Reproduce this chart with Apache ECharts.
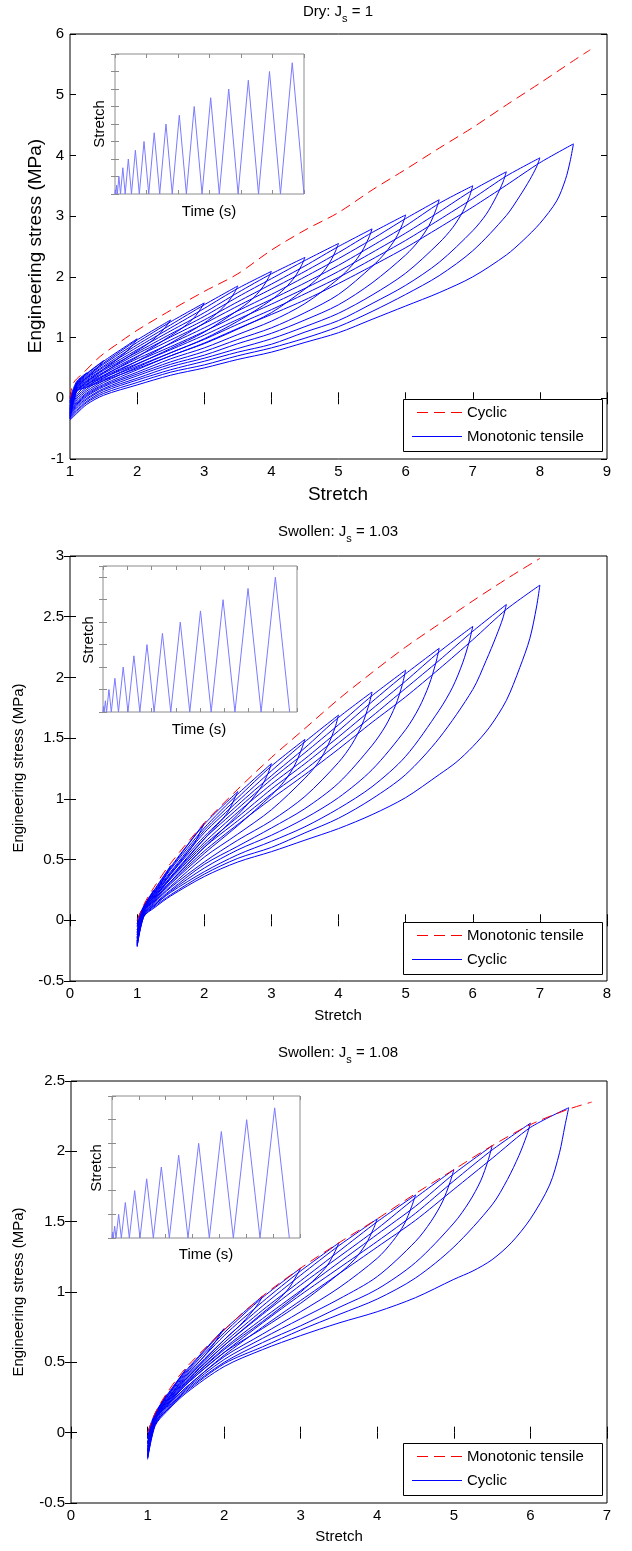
<!DOCTYPE html>
<html>
<head>
<meta charset="utf-8">
<script src="https://cdn.jsdelivr.net/npm/echarts@6/dist/echarts.min.js"></script>
<style>html,body{margin:0;padding:0;background:#fff}#c{width:632px;height:1551px}</style>
</head>
<body>
<div id="c"></div>
<script>
const FONT = '"Liberation Sans", Arial, Helvetica, sans-serif';

// ================= Panel 1: Dry, J_s = 1 =================
const dryMonoX = [1, 1.05, 1.2, 1.45, 1.75, 2, 2.5, 3, 3.5, 4, 4.5, 5, 5.5, 6, 6.5, 7, 7.5, 8, 8.5, 8.75];
const dryMonoY = [0, 0.25, 0.42, 0.69, 0.93, 1.12, 1.45, 1.76, 2.05, 2.44, 2.77, 3.06, 3.43, 3.77, 4.12, 4.46, 4.83, 5.19, 5.56, 5.74];
// loading branches, [stretch, stress]
const dryLoad = [
  [[1,0],[1.1,0.28],[1.25,0.42]],
  [[1,-0.05],[1.1,0.26],[1.25,0.41],[1.5,0.62]],
  [[1,-0.08],[1.1,0.25],[1.25,0.40],[1.5,0.61],[2,0.98]],
  [[1,-0.12],[1.1,0.24],[1.25,0.38],[1.5,0.58],[2,0.96],[2.5,1.29]],
  [[1,-0.15],[1.1,0.23],[1.25,0.36],[1.5,0.56],[2,0.92],[2.5,1.26],[3,1.57]],
  [[1,-0.17],[1.1,0.22],[1.25,0.34],[1.5,0.53],[2,0.88],[2.5,1.21],[3,1.54],[3.5,1.85]],
  [[1,-0.19],[1.1,0.21],[1.25,0.33],[1.5,0.51],[2,0.84],[2.5,1.16],[3,1.48],[3.5,1.81],[4,2.09]],
  [[1,-0.21],[1.1,0.20],[1.25,0.31],[1.5,0.48],[2,0.80],[2.5,1.11],[3,1.41],[3.5,1.74],[4,2.05],[4.5,2.32]],
  [[1,-0.23],[1.1,0.19],[1.25,0.29],[1.5,0.46],[2,0.76],[2.5,1.06],[3,1.35],[3.5,1.67],[4,1.97],[4.5,2.27],[5,2.55]],
  [[1,-0.24],[1.1,0.17],[1.25,0.28],[1.5,0.43],[2,0.73],[2.5,1.01],[3,1.29],[3.5,1.59],[4,1.88],[4.5,2.18],[5,2.50],[5.5,2.79]],
  [[1,-0.26],[1.1,0.16],[1.25,0.26],[1.5,0.41],[2,0.69],[2.5,0.96],[3,1.23],[3.5,1.52],[4,1.80],[4.5,2.09],[5,2.40],[5.5,2.73],[6,3.02]],
  [[1,-0.27],[1.1,0.15],[1.25,0.24],[1.5,0.38],[2,0.65],[2.5,0.90],[3,1.16],[3.5,1.44],[4,1.71],[4.5,2.00],[5,2.30],[5.5,2.62],[6,2.96],[6.5,3.27]],
  [[1,-0.29],[1.1,0.14],[1.25,0.23],[1.5,0.36],[2,0.61],[2.5,0.85],[3,1.10],[3.5,1.37],[4,1.63],[4.5,1.90],[5,2.19],[5.5,2.51],[6,2.84],[6.5,3.21],[7,3.50]],
  [[1,-0.31],[1.1,0.13],[1.25,0.21],[1.5,0.34],[2,0.57],[2.5,0.80],[3,1.04],[3.5,1.30],[4,1.55],[4.5,1.81],[5,2.09],[5.5,2.40],[6,2.72],[6.5,3.07],[7,3.43],[7.5,3.73]],
  [[1,-0.32],[1.1,0.12],[1.25,0.19],[1.5,0.31],[2,0.53],[2.5,0.75],[3,0.97],[3.5,1.22],[4,1.46],[4.5,1.72],[5,1.99],[5.5,2.29],[6,2.60],[6.5,2.94],[7,3.29],[7.5,3.66],[8,3.96]],
  [[1,-0.34],[1.1,0.11],[1.25,0.18],[1.5,0.29],[2,0.49],[2.5,0.70],[3,0.91],[3.5,1.15],[4,1.38],[4.5,1.62],[5,1.89],[5.5,2.18],[6,2.48],[6.5,2.81],[7,3.15],[7.5,3.51],[8,3.88],[8.5,4.19]]
];
// unloading branches
const dryUnload = [
  [[1.25,0.42],[1.2,0.35],[1.1,0.23],[1,-0.05]],
  [[1.5,0.62],[1.45,0.55],[1.35,0.44],[1.25,0.34],[1.1,0.17],[1,-0.08]],
  [[2,0.98],[1.95,0.90],[1.85,0.78],[1.7,0.64],[1.5,0.48],[1.25,0.27],[1.1,0.11],[1,-0.12]],
  [[2.5,1.29],[2.45,1.21],[2.35,1.08],[2.2,0.93],[2,0.78],[1.5,0.42],[1.25,0.22],[1.1,0.06],[1,-0.15]],
  [[3,1.57],[2.95,1.48],[2.85,1.33],[2.7,1.18],[2.5,1.03],[2,0.68],[1.5,0.37],[1.25,0.18],[1.1,0.03],[1,-0.17]],
  [[3.5,1.85],[3.45,1.74],[3.35,1.58],[3.2,1.41],[3,1.24],[2.5,0.91],[2,0.61],[1.5,0.33],[1.25,0.15],[1.1,0.00],[1,-0.19]],
  [[4,2.09],[3.95,1.97],[3.85,1.80],[3.7,1.62],[3.5,1.45],[3,1.09],[2.5,0.82],[2,0.56],[1.5,0.29],[1.25,0.12],[1.1,-0.03],[1,-0.21]],
  [[4.5,2.32],[4.45,2.19],[4.35,2.00],[4.2,1.81],[4,1.62],[3.5,1.27],[3,0.98],[2.5,0.75],[2,0.51],[1.5,0.26],[1.25,0.09],[1.1,-0.06],[1,-0.23]],
  [[5,2.55],[4.95,2.41],[4.85,2.20],[4.7,1.99],[4.5,1.80],[4,1.41],[3.5,1.14],[3,0.90],[2.5,0.70],[2,0.47],[1.5,0.23],[1.25,0.07],[1.1,-0.08],[1,-0.24]],
  [[5.5,2.79],[5.45,2.64],[5.35,2.42],[5.2,2.19],[5,1.97],[4.5,1.56],[4,1.27],[3.5,1.05],[3,0.83],[2.5,0.65],[2,0.43],[1.5,0.21],[1.25,0.05],[1.1,-0.10],[1,-0.26]],
  [[6,3.02],[5.95,2.86],[5.85,2.63],[5.7,2.40],[5.5,2.17],[5,1.71],[4.5,1.41],[4,1.16],[3.5,0.97],[3,0.77],[2.5,0.60],[2,0.40],[1.5,0.19],[1.25,0.03],[1.1,-0.12],[1,-0.27]],
  [[6.5,3.27],[6.45,3.10],[6.35,2.85],[6.2,2.60],[6,2.36],[5.5,1.90],[5,1.54],[4.5,1.29],[4,1.07],[3.5,0.90],[3,0.71],[2.5,0.56],[2,0.37],[1.5,0.16],[1.25,0.00],[1.1,-0.14],[1,-0.29]],
  [[7,3.50],[6.95,3.32],[6.85,3.07],[6.7,2.81],[6.5,2.56],[6,2.06],[5.5,1.70],[5,1.40],[4.5,1.18],[4,0.98],[3.5,0.82],[3,0.66],[2.5,0.52],[2,0.33],[1.5,0.14],[1.25,-0.02],[1.1,-0.17],[1,-0.31]],
  [[7.5,3.73],[7.45,3.56],[7.35,3.32],[7.2,3.03],[7,2.76],[6.5,2.24],[6,1.86],[5.5,1.56],[5,1.28],[4.5,1.09],[4,0.89],[3.5,0.76],[3,0.61],[2.5,0.47],[2,0.30],[1.5,0.11],[1.25,-0.05],[1.1,-0.20],[1,-0.32]],
  [[8,3.96],[7.95,3.81],[7.85,3.60],[7.7,3.33],[7.5,3.01],[7,2.43],[6.5,2.02],[6,1.71],[5.5,1.43],[5,1.18],[4.5,0.99],[4,0.83],[3.5,0.70],[3,0.55],[2.5,0.43],[2,0.26],[1.5,0.08],[1.25,-0.07],[1.1,-0.22],[1,-0.34]],
  [[8.5,4.19],[8.45,3.90],[8.38,3.60],[8.25,3.25],[8,2.88],[7.75,2.60],[7.5,2.36],[7,2.00],[6.5,1.74],[6,1.52],[5.5,1.30],[5,1.08],[4.5,0.92],[4,0.76],[3.5,0.64],[3,0.50],[2.5,0.38],[2,0.22],[1.5,0.05],[1.25,-0.10],[1.1,-0.25],[1,-0.36]]
];
const dryInsetT = [0, 0.25, 0.5, 1.0, 1.5, 2.5, 3.5, 5.0, 6.5, 8.5, 10.5, 13, 15.5, 18.5, 21.5, 25, 28.5, 32.5, 36.5, 41, 45.5, 50.5, 55.5, 61, 66.5, 72.5, 78.5, 85, 91.5, 98.5, 105.5, 113, 120.5];
const dryInsetS = [1, 1.25, 1, 1.5, 1, 2, 1, 2.5, 1, 3, 1, 3.5, 1, 4, 1, 4.5, 1, 5, 1, 5.5, 1, 6, 1, 6.5, 1, 7, 1, 7.5, 1, 8, 1, 8.5, 1];

// ================= Panel 2: Swollen, J_s = 1.03 =================
const sw1MonoX = [1, 1.1, 1.25, 1.5, 2, 2.5, 3, 3.5, 4, 4.5, 5, 5.5, 6, 6.5, 7];
const sw1MonoY = [0, 0.13, 0.27, 0.47, 0.80, 1.08, 1.34, 1.58, 1.82, 2.04, 2.25, 2.44, 2.63, 2.81, 2.98];
const sw1Load = [
  [[1,0],[1.1,0.12],[1.25,0.25]],
  [[1,-0.03],[1.1,0.11],[1.25,0.245],[1.5,0.45]],
  [[1,-0.05],[1.1,0.11],[1.25,0.24],[1.5,0.44],[2,0.80]],
  [[1,-0.08],[1.1,0.11],[1.25,0.23],[1.5,0.43],[2,0.79],[2.5,1.06]],
  [[1,-0.10],[1.1,0.10],[1.25,0.22],[1.5,0.42],[2,0.76],[2.5,1.04],[3,1.29]],
  [[1,-0.12],[1.1,0.10],[1.25,0.22],[1.5,0.40],[2,0.74],[2.5,1.01],[3,1.27],[3.5,1.49]],
  [[1,-0.14],[1.1,0.10],[1.25,0.21],[1.5,0.39],[2,0.72],[2.5,0.98],[3,1.23],[3.5,1.47],[4,1.69]],
  [[1,-0.15],[1.1,0.09],[1.25,0.20],[1.5,0.38],[2,0.69],[2.5,0.95],[3,1.19],[3.5,1.42],[4,1.67],[4.5,1.88]],
  [[1,-0.17],[1.1,0.09],[1.25,0.19],[1.5,0.36],[2,0.67],[2.5,0.92],[3,1.16],[3.5,1.38],[4,1.61],[4.5,1.85],[5,2.06]],
  [[1,-0.18],[1.1,0.09],[1.25,0.19],[1.5,0.35],[2,0.64],[2.5,0.89],[3,1.12],[3.5,1.33],[4,1.56],[4.5,1.80],[5,2.03],[5.5,2.24]],
  [[1,-0.19],[1.1,0.08],[1.25,0.18],[1.5,0.34],[2,0.62],[2.5,0.85],[3,1.08],[3.5,1.29],[4,1.51],[4.5,1.74],[5,1.97],[5.5,2.21],[6,2.42]],
  [[1,-0.20],[1.1,0.08],[1.25,0.17],[1.5,0.32],[2,0.60],[2.5,0.82],[3,1.04],[3.5,1.24],[4,1.46],[4.5,1.68],[5,1.91],[5.5,2.14],[6,2.38],[6.5,2.60]],
  [[1,-0.21],[1.1,0.08],[1.25,0.16],[1.5,0.31],[2,0.57],[2.5,0.79],[3,1.00],[3.5,1.20],[4,1.41],[4.5,1.63],[5,1.84],[5.5,2.07],[6,2.31],[6.5,2.56],[7,2.76]]
];
const sw1Unload = [
  [[1.25,0.25],[1.2,0.20],[1.1,0.11],[1,-0.03]],
  [[1.5,0.45],[1.45,0.40],[1.35,0.30],[1.25,0.22],[1.1,0.10],[1,-0.05]],
  [[2,0.80],[1.95,0.74],[1.85,0.63],[1.7,0.52],[1.5,0.38],[1.25,0.20],[1.1,0.09],[1,-0.08]],
  [[2.5,1.06],[2.45,1.00],[2.35,0.89],[2.2,0.79],[2,0.67],[1.5,0.35],[1.25,0.18],[1.1,0.08],[1,-0.10]],
  [[3,1.29],[2.95,1.21],[2.85,1.10],[2.7,0.99],[2.5,0.87],[2,0.60],[1.5,0.32],[1.25,0.17],[1.1,0.07],[1,-0.12]],
  [[3.5,1.49],[3.45,1.41],[3.35,1.28],[3.2,1.15],[3,1.03],[2.5,0.78],[2,0.55],[1.5,0.30],[1.25,0.16],[1.1,0.06],[1,-0.14]],
  [[4,1.69],[3.95,1.59],[3.85,1.45],[3.7,1.30],[3.5,1.17],[3,0.91],[2.5,0.71],[2,0.52],[1.5,0.28],[1.25,0.15],[1.1,0.06],[1,-0.15]],
  [[4.5,1.88],[4.45,1.77],[4.35,1.61],[4.2,1.45],[4,1.30],[3.5,1.02],[3,0.82],[2.5,0.66],[2,0.48],[1.5,0.27],[1.25,0.14],[1.1,0.05],[1,-0.17]],
  [[5,2.06],[4.95,1.94],[4.85,1.77],[4.7,1.60],[4.5,1.44],[4,1.13],[3.5,0.92],[3,0.76],[2.5,0.61],[2,0.46],[1.5,0.25],[1.25,0.13],[1.1,0.05],[1,-0.18]],
  [[5.5,2.24],[5.45,2.12],[5.35,1.94],[5.2,1.75],[5,1.57],[4.5,1.24],[4,1.01],[3.5,0.84],[3,0.70],[2.5,0.58],[2,0.43],[1.5,0.24],[1.25,0.12],[1.1,0.04],[1,-0.19]],
  [[6,2.42],[5.95,2.30],[5.85,2.12],[5.7,1.92],[5.5,1.73],[5,1.35],[4.5,1.10],[4,0.92],[3.5,0.77],[3,0.65],[2.5,0.54],[2,0.40],[1.5,0.23],[1.25,0.12],[1.1,0.04],[1,-0.20]],
  [[6.5,2.60],[6.45,2.49],[6.35,2.34],[6.2,2.14],[6,1.90],[5.5,1.50],[5,1.20],[4.5,1.00],[4,0.84],[3.5,0.72],[3,0.60],[2.5,0.51],[2,0.38],[1.5,0.21],[1.25,0.11],[1.1,0.03],[1,-0.21]],
  [[7,2.76],[6.95,2.58],[6.85,2.32],[6.7,2.08],[6.5,1.81],[6.25,1.59],[6,1.43],[5.75,1.30],[5.5,1.20],[5,1.01],[4.5,0.87],[4,0.755],[3.5,0.66],[3,0.565],[2.5,0.48],[2,0.36],[1.5,0.20],[1.25,0.10],[1.1,0.03],[1,-0.22]]
];
const sw1InsetT = [0, 0.25, 0.5, 1.0, 1.5, 2.5, 3.5, 5.0, 6.5, 8.5, 10.5, 13, 15.5, 18.5, 21.5, 25, 28.5, 32.5, 36.5, 41, 45.5, 50.5, 55.5, 61, 66.5, 72.5, 78.5];
const sw1InsetS = [1, 1.25, 1, 1.5, 1, 2, 1, 2.5, 1, 3, 1, 3.5, 1, 4, 1, 4.5, 1, 5, 1, 5.5, 1, 6, 1, 6.5, 1, 7, 1];

// ================= Panel 3: Swollen, J_s = 1.08 =================
const sw2MonoX = [1, 1.1, 1.25, 1.5, 2, 2.5, 3, 3.5, 4, 4.5, 5, 5.5, 6, 6.5, 6.8];
const sw2MonoY = [0, 0.14, 0.28, 0.46, 0.73, 0.97, 1.17, 1.35, 1.52, 1.70, 1.87, 2.04, 2.19, 2.30, 2.35];
const sw2Load = [
  [[1,0],[1.1,0.14],[1.25,0.27]],
  [[1,-0.03],[1.1,0.13],[1.25,0.265],[1.5,0.45]],
  [[1,-0.04],[1.1,0.13],[1.25,0.26],[1.5,0.44],[2,0.74]],
  [[1,-0.07],[1.1,0.13],[1.25,0.25],[1.5,0.43],[2,0.73],[2.5,0.97]],
  [[1,-0.08],[1.1,0.12],[1.25,0.24],[1.5,0.42],[2,0.71],[2.5,0.96],[3,1.17]],
  [[1,-0.10],[1.1,0.12],[1.25,0.23],[1.5,0.40],[2,0.69],[2.5,0.93],[3,1.15],[3.5,1.35]],
  [[1,-0.12],[1.1,0.11],[1.25,0.23],[1.5,0.39],[2,0.66],[2.5,0.90],[3,1.12],[3.5,1.33],[4,1.52]],
  [[1,-0.13],[1.1,0.11],[1.25,0.22],[1.5,0.38],[2,0.64],[2.5,0.87],[3,1.08],[3.5,1.29],[4,1.50],[4.5,1.69]],
  [[1,-0.14],[1.1,0.10],[1.25,0.21],[1.5,0.36],[2,0.62],[2.5,0.84],[3,1.05],[3.5,1.25],[4,1.45],[4.5,1.67],[5,1.87]],
  [[1,-0.16],[1.1,0.10],[1.25,0.20],[1.5,0.35],[2,0.60],[2.5,0.81],[3,1.01],[3.5,1.21],[4,1.41],[4.5,1.61],[5,1.84],[5.5,2.04]],
  [[1,-0.17],[1.1,0.10],[1.25,0.19],[1.5,0.34],[2,0.57],[2.5,0.78],[3,0.98],[3.5,1.17],[4,1.36],[4.5,1.56],[5,1.79],[5.5,2.01],[6,2.20]],
  [[1,-0.18],[1.1,0.09],[1.25,0.19],[1.5,0.32],[2,0.55],[2.5,0.75],[3,0.94],[3.5,1.13],[4,1.32],[4.5,1.51],[5,1.73],[5.5,1.95],[6,2.17],[6.5,2.31]]
];
const sw2Unload = [
  [[1.25,0.27],[1.2,0.22],[1.1,0.13],[1,-0.03]],
  [[1.5,0.45],[1.45,0.41],[1.35,0.33],[1.25,0.25],[1.1,0.12],[1,-0.04]],
  [[2,0.74],[1.95,0.70],[1.85,0.62],[1.7,0.52],[1.5,0.41],[1.25,0.23],[1.1,0.11],[1,-0.07]],
  [[2.5,0.97],[2.45,0.92],[2.35,0.85],[2.2,0.76],[2,0.66],[1.5,0.38],[1.25,0.22],[1.1,0.10],[1,-0.08]],
  [[3,1.17],[2.95,1.12],[2.85,1.03],[2.7,0.94],[2.5,0.85],[2,0.62],[1.5,0.37],[1.25,0.21],[1.1,0.09],[1,-0.10]],
  [[3.5,1.35],[3.45,1.29],[3.35,1.19],[3.2,1.10],[3,1.00],[2.5,0.79],[2,0.59],[1.5,0.35],[1.25,0.20],[1.1,0.09],[1,-0.12]],
  [[4,1.52],[3.95,1.45],[3.85,1.34],[3.7,1.23],[3.5,1.13],[3,0.92],[2.5,0.74],[2,0.57],[1.5,0.34],[1.25,0.19],[1.1,0.08],[1,-0.13]],
  [[4.5,1.69],[4.45,1.61],[4.35,1.48],[4.2,1.36],[4,1.24],[3.5,1.03],[3,0.86],[2.5,0.70],[2,0.54],[1.5,0.32],[1.25,0.18],[1.1,0.07],[1,-0.14]],
  [[5,1.87],[4.95,1.78],[4.85,1.64],[4.7,1.50],[4.5,1.36],[4,1.11],[3.5,0.95],[3,0.81],[2.5,0.67],[2,0.52],[1.5,0.31],[1.25,0.17],[1.1,0.07],[1,-0.16]],
  [[5.5,2.04],[5.45,1.94],[5.35,1.79],[5.2,1.64],[5,1.49],[4.5,1.21],[4,1.02],[3.5,0.89],[3,0.76],[2.5,0.64],[2,0.50],[1.5,0.30],[1.25,0.16],[1.1,0.06],[1,-0.17]],
  [[6,2.20],[5.95,2.11],[5.85,1.97],[5.7,1.80],[5.5,1.62],[5,1.32],[4.5,1.10],[4,0.95],[3.5,0.84],[3,0.73],[2.5,0.61],[2,0.49],[1.5,0.29],[1.25,0.16],[1.1,0.06],[1,-0.18]],
  [[6.5,2.31],[6.45,2.18],[6.38,1.99],[6.25,1.76],[6,1.52],[5.75,1.35],[5.5,1.23],[5.25,1.15],[5,1.09],[4.5,0.96],[4,0.86],[3.5,0.78],[3,0.69],[2.5,0.59],[2,0.47],[1.5,0.28],[1.25,0.15],[1.1,0.05],[1,-0.19]]
];
const sw2InsetT = [0, 0.25, 0.5, 1.0, 1.5, 2.5, 3.5, 5.0, 6.5, 8.5, 10.5, 13, 15.5, 18.5, 21.5, 25, 28.5, 32.5, 36.5, 41, 45.5, 50.5, 55.5, 61, 66.5];
const sw2InsetS = [1, 1.25, 1, 1.5, 1, 2, 1, 2.5, 1, 3, 1, 3.5, 1, 4, 1, 4.5, 1, 5, 1, 5.5, 1, 6, 1, 6.5, 1];

// ================= Layout =================
const grids = [
  {left: 70, top: 34, width: 537, height: 425},
  {left: 70, top: 556, width: 537, height: 425},
  {left: 71, top: 1081, width: 536, height: 422},
  {left: 115, top: 54, width: 189, height: 140},
  {left: 103, top: 566, width: 194, height: 146},
  {left: 112, top: 1096, width: 188, height: 142}
];
const ranges = [
  {x: [1, 9, 1], y: [-1, 6, 1]},
  {x: [0, 8, 1], y: [-0.5, 3, 0.5]},
  {x: [0, 7, 1], y: [-0.5, 2.5, 0.5]},
  {x: [0, 120.5, 120.5 / 6], y: [1, 9, 1]},
  {x: [0, 81.6, 10.2], y: [1, 7.5, 1]},
  {x: [0, 70.5, 70.5 / 7], y: [1, 7, 1]}
];

const gridOpts = grids.map((g, i) => Object.assign({}, g, {
  show: true,
  backgroundColor: '#fff',
  borderColor: i < 3 ? '#000' : '#8c8c8c',
  borderWidth: 1,
  outerBoundsMode: 'none',
  containLabel: false
}));

const xAxes = [], yAxes = [];
ranges.forEach((r, i) => {
  const main = i < 3;
  const tickColor = main ? '#000' : '#8c8c8c';
  const tick = {show: true, inside: true, length: main ? 6 : 4, lineStyle: {color: tickColor, width: 1}};
  const lbl = {show: main, fontSize: 15, color: '#000', fontFamily: FONT};
  const bx = {gridIndex: i, type: 'value', min: r.x[0], max: r.x[1], interval: r.x[2],
    splitLine: {show: false}, axisLine: {show: false}, axisTick: tick};
  const by = {gridIndex: i, type: 'value', min: r.y[0], max: r.y[1], interval: r.y[2],
    splitLine: {show: false}, axisLine: {show: false}, axisTick: tick};
  xAxes.push(Object.assign({}, bx, {position: 'bottom', axisLabel: Object.assign({}, lbl, {margin: 5})}));
  xAxes.push(Object.assign({}, bx, {position: 'top', axisLabel: {show: false}}));
  yAxes.push(Object.assign({}, by, {position: 'left', axisLabel: Object.assign({}, lbl, {margin: 6})}));
  yAxes.push(Object.assign({}, by, {position: 'right', axisLabel: {show: false}}));
});

function pairs(xs, ys) { return xs.map((x, i) => [x, ys[i]]); }
function line(gi, data, color, dash, smooth, z) {
  return {
    type: 'line', xAxisIndex: gi * 2, yAxisIndex: gi * 2, data: data,
    symbol: 'none', showSymbol: false, smooth: smooth, silent: true, animation: false, z: z,
    lineStyle: {color: color, width: 1, type: dash || 'solid'}
  };
}
function cyclic(gi, loads, unloads) {
  const out = [];
  loads.forEach(d => out.push(line(gi, d, '#0000ff', null, 0.25, 2)));
  unloads.forEach(d => out.push(line(gi, d, '#0000ff', null, 0.3, 2)));
  return out;
}

const series = [].concat(
  cyclic(0, dryLoad, dryUnload),
  [line(0, pairs(dryMonoX, dryMonoY), '#ff0000', [10, 6], 0.3, 3)],
  cyclic(1, sw1Load, sw1Unload),
  [line(1, pairs(sw1MonoX, sw1MonoY), '#ff0000', [10, 6], 0.3, 3)],
  cyclic(2, sw2Load, sw2Unload),
  [line(2, pairs(sw2MonoX, sw2MonoY), '#ff0000', [10, 6], 0.3, 3)],
  [line(3, pairs(dryInsetT, dryInsetS), '#7b7bff', null, false, 4)],
  [line(4, pairs(sw1InsetT, sw1InsetS), '#7b7bff', null, false, 4)],
  [line(5, pairs(sw2InsetT, sw2InsetS), '#7b7bff', null, false, 4)]
);

// ================= Titles =================
function title(text, top) {
  return {
    text: text, left: 338, top: top, textAlign: 'center', padding: 0,
    textStyle: {fontWeight: 'normal', rich: {
      a: {fontSize: 15, lineHeight: 24, color: '#000', fontFamily: FONT, fontWeight: 'normal'},
      s: {fontSize: 11, lineHeight: 11, verticalAlign: 'bottom', color: '#000', fontFamily: FONT, fontWeight: 'normal'}
    }}
  };
}
const titles = [
  title('{a|Dry: J}{s|s}{a| = 1}', 0),
  title('{a|Swollen: J}{s|s}{a| = 1.03}', 520),
  title('{a|Swollen: J}{s|s}{a| = 1.08}', 1041)
];

// ================= Text labels and legends =================
function txt(s, x, y, size, rot, align) {
  return {
    type: 'text', x: x, y: y, rotation: rot ? Math.PI / 2 : 0, z: 100,
    style: {text: s, fill: '#000', fontSize: size, fontFamily: FONT,
      align: align || 'center', verticalAlign: 'middle',
      textAlign: align || 'center', textVerticalAlign: 'middle'}
  };
}
function seg(x1, x2, y, color) {
  return {type: 'line', z: 101, shape: {x1: x1, y1: y, x2: x2, y2: y},
    style: {stroke: color, lineWidth: 1}};
}
function legend(bx, by, redLabel, blueLabel) {
  const ry = by + 13.5, byy = by + 37.5;
  return [
    {type: 'rect', z: 100, shape: {x: bx + 0.5, y: by + 0.5, width: 199, height: 52},
      style: {fill: '#fff', stroke: '#000', lineWidth: 1}},
    seg(bx + 14, bx + 25, ry, '#ff0000'),
    seg(bx + 31, bx + 42, ry, '#ff0000'),
    seg(bx + 48, bx + 59, ry, '#ff0000'),
    seg(bx + 9, bx + 59, byy, '#0000ff'),
    txt(redLabel, bx + 64, ry, 15, false, 'left'),
    txt(blueLabel, bx + 64, byy, 15, false, 'left')
  ];
}
const graphics = [
  txt('Stretch', 338, 495, 19),
  txt('Engineering stress (MPa)', 36, 246, 19, true),
  txt('Stretch', 338, 1016, 15),
  txt('Engineering stress (MPa)', 19, 768, 15, true),
  txt('Stretch', 339, 1537, 15),
  txt('Engineering stress (MPa)', 19, 1292, 15, true),
  txt('Stretch', 100, 124, 15, true),
  txt('Time (s)', 209, 212, 15),
  txt('Stretch', 89, 640, 15, true),
  txt('Time (s)', 199, 730, 15),
  txt('Stretch', 97, 1168, 15, true),
  txt('Time (s)', 206, 1255, 15)
].concat(
  legend(403, 399, 'Cyclic', 'Monotonic tensile'),
  legend(403, 922, 'Monotonic tensile', 'Cyclic'),
  legend(403, 1443, 'Monotonic tensile', 'Cyclic')
);

const chart = echarts.init(document.getElementById('c'), null, {renderer: 'canvas'});
chart.setOption({
  backgroundColor: '#fff',
  animation: false,
  textStyle: {fontFamily: FONT},
  title: titles,
  grid: gridOpts,
  xAxis: xAxes,
  yAxis: yAxes,
  series: series,
  graphic: {elements: graphics}
});
</script>
</body>
</html>
